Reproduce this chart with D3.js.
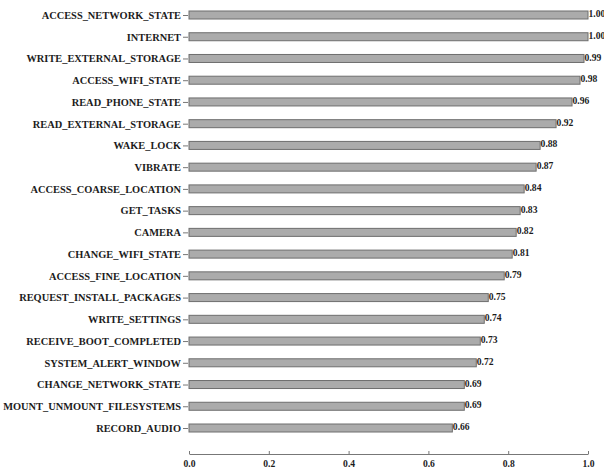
<!DOCTYPE html>
<html>
<head>
<meta charset="utf-8">
<script src="https://cdn.jsdelivr.net/npm/d3@7"></script>
<style>
  html, body { margin: 0; padding: 0; background: #fff; }
  svg { display: block; }
  text { font-family: "Liberation Serif", "Times New Roman", serif; font-weight: bold; fill: #1c1c1c; }
</style>
</head>
<body>
<svg id="chart" width="604" height="469"></svg>
<script>
const categories = [
  "ACCESS_NETWORK_STATE", "INTERNET", "WRITE_EXTERNAL_STORAGE", "ACCESS_WIFI_STATE",
  "READ_PHONE_STATE", "READ_EXTERNAL_STORAGE", "WAKE_LOCK", "VIBRATE",
  "ACCESS_COARSE_LOCATION", "GET_TASKS", "CAMERA", "CHANGE_WIFI_STATE",
  "ACCESS_FINE_LOCATION", "REQUEST_INSTALL_PACKAGES", "WRITE_SETTINGS",
  "RECEIVE_BOOT_COMPLETED", "SYSTEM_ALERT_WINDOW", "CHANGE_NETWORK_STATE",
  "MOUNT_UNMOUNT_FILESYSTEMS", "RECORD_AUDIO"
];
const values = [1.00, 1.00, 0.99, 0.98, 0.96, 0.92, 0.88, 0.87, 0.84, 0.83,
                0.82, 0.81, 0.79, 0.75, 0.74, 0.73, 0.72, 0.69, 0.69, 0.66];
const xTicks = [0.0, 0.2, 0.4, 0.6, 0.8, 1.0];

const data = categories.map((c, i) => ({ name: c, value: values[i] }));
const svg = d3.select("#chart");

const x = d3.scaleLinear().domain([0, 1]).range([189, 588]);
const y = d3.scalePoint().domain(categories).range([15, 428]);
const barH = 8;

// bars
svg.append("g").selectAll("rect").data(data).join("rect")
  .attr("x", x(0))
  .attr("y", d => y(d.name) - barH / 2)
  .attr("width", d => x(d.value) - x(0))
  .attr("height", barH)
  .attr("fill", "#ababab")
  .attr("stroke", "#6e6e6e")
  .attr("stroke-width", 1);

// value labels
svg.append("g").selectAll("text").data(data).join("text")
  .attr("x", d => x(d.value) + 0.5)
  .attr("y", d => y(d.name) - 1)
  .attr("dy", "0.32em")
  .attr("font-size", "9.6px")
  .text(d => d.value.toFixed(2));

// y axis (ticks + labels, no domain line)
const yAxis = svg.append("g")
  .attr("transform", `translate(${x(0) - 1},0)`)
  .call(d3.axisLeft(y).tickSize(5).tickPadding(2));
yAxis.select(".domain").remove();
yAxis.selectAll(".tick line").attr("stroke", "#777");
yAxis.selectAll(".tick text")
  .attr("font-size", "10.4px")
  .attr("font-family", "Liberation Serif, Times New Roman, serif")
  .attr("font-weight", "bold")
  .attr("fill", "#1c1c1c");

// x axis
const xAxis = svg.append("g")
  .attr("transform", "translate(0,454)")
  .call(d3.axisBottom(x).tickValues(xTicks).tickFormat(d3.format(".1f")).tickSizeInner(-3).tickSizeOuter(0).tickPadding(6));
xAxis.select(".domain").attr("stroke", "#777");
xAxis.selectAll(".tick line").attr("stroke", "#777");
xAxis.selectAll(".tick text")
  .attr("font-size", "9.6px")
  .attr("font-family", "Liberation Serif, Times New Roman, serif")
  .attr("font-weight", "bold")
  .attr("fill", "#1c1c1c");
</script>
</body>
</html>
